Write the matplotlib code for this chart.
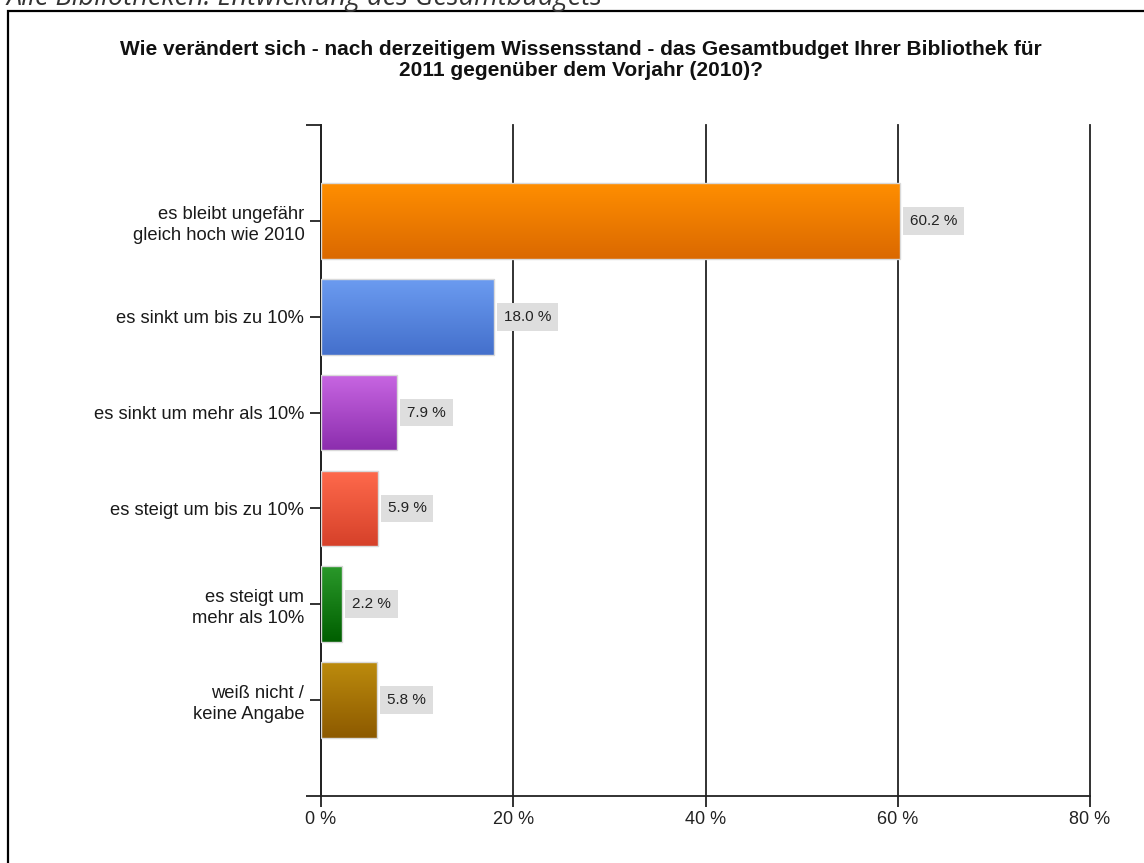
import matplotlib.pyplot as plt
import matplotlib.patches as mpatches
import numpy as np
from matplotlib.colors import LinearSegmentedColormap

plt.rcParams['font.family'] = ['Liberation Sans', 'DejaVu Sans']

# Umfrage: Entwicklung des Gesamtbudgets 2011 vs. 2010
categories = ['es bleibt ungefähr\ngleich hoch wie 2010',
              'es sinkt um bis zu 10%',
              'es sinkt um mehr als 10%',
              'es steigt um bis zu 10%',
              'es steigt um\nmehr als 10%',
              'weiß nicht /\nkeine Angabe']
values = [60.2, 18.0, 7.9, 5.9, 2.2, 5.8]
value_labels = ['60.2 %', '18.0 %', '7.9 %', '5.9 %', '2.2 %', '5.8 %']
x_ticks = [0, 20, 40, 60, 80]
x_ticklabels = ['0 %', '20 %', '40 %', '60 %', '80 %']

# top / bottom colour of each bar gradient
bar_colors = [('#ff8e00', '#db6900'),
              ('#6b9bf0', '#4470cc'),
              ('#c866e2', '#8c2eae'),
              ('#ff6a4c', '#d6412a'),
              ('#2a982a', '#005f00'),
              ('#bc8b0d', '#8d5a00')]

W, H = 1144, 863
fig = plt.figure(figsize=(W / 100, H / 100), dpi=100)
ax = fig.add_axes([321 / W, (H - 796) / H, (1090 - 321) / W, (796 - 125) / H])

ypos = np.arange(1, len(categories) + 1)
bar_h = 0.79

ax.set_xlim(0, 80)
ax.set_ylim(len(categories) + 1, 0)

for y, v, (c_top, c_bot), lab in zip(ypos, values, bar_colors, value_labels):
    cmap = LinearSegmentedColormap.from_list('g', [c_top, c_bot])
    grad = np.linspace(0, 1, 64).reshape(-1, 1)
    im = ax.imshow(grad, cmap=cmap, aspect='auto', zorder=3,
                   extent=(0, v, y + bar_h / 2, y - bar_h / 2), origin='upper')
    rect = mpatches.Rectangle((0, y - bar_h / 2), v, bar_h, facecolor='none',
                              edgecolor='#d9d9d9', linewidth=1.0, zorder=4)
    ax.add_patch(rect)
    im.set_clip_path(rect)
    ax.annotate(lab, xy=(v, y), xytext=(10, 0), textcoords='offset pixels',
                ha='left', va='center', fontsize=11, color='#222222', zorder=6,
                bbox=dict(boxstyle='square,pad=0.45', facecolor='#dedede',
                          edgecolor='none'))

ax.set_xlim(0, 80)
ax.set_ylim(len(categories) + 1, 0)

ax.set_xticks(x_ticks)
ax.set_xticklabels(x_ticklabels, fontsize=13, color='#222222')
ax.set_yticks(ypos)
ax.set_yticklabels(categories, fontsize=13.2, color='#1a1a1a', linespacing=1.3)
ax.set_yticks([0, len(categories) + 1], minor=True)
ax.tick_params(axis='y', which='major', length=8, width=1.3, color='#222222', pad=4)
ax.tick_params(axis='y', which='minor', length=11, width=1.3, color='#222222')
ax.tick_params(axis='x', length=8, width=1.3, color='#222222', pad=3)

ax.grid(axis='x', color='#222222', linewidth=1.3, zorder=1)
ax.set_axisbelow(True)
for gl in ax.get_xgridlines():
    gl.set_clip_on(False)
for side in ['top', 'right']:
    ax.spines[side].set_visible(False)
for side in ['left', 'bottom']:
    ax.spines[side].set_color('#222222')
    ax.spines[side].set_linewidth(1.3)

fig.text(581 / W, 1 - 60 / H,
         'Wie verändert sich - nach derzeitigem Wissensstand - das Gesamtbudget Ihrer Bibliothek für\n'
         '2011 gegenüber dem Vorjahr (2010)?',
         ha='center', va='center', fontsize=15, fontweight='bold', color='#111111',
         linespacing=1.12)

# Überschrift oberhalb des Rahmens, oben abgeschnitten
fig.text(7 / W, 1 - 5 / H, 'Alle Bibliotheken: Entwicklung des Gesamtbudgets',
         ha='left', va='baseline', fontsize=19.5, style='italic', color='#333333',
         family=['Open Sans', 'DejaVu Sans'])

# Rahmen um das Diagramm
fig.add_artist(mpatches.Rectangle((8 / W, -0.1), 2, 1.1 - 11 / H, transform=fig.transFigure,
                                  facecolor='none', edgecolor='black', linewidth=1.6))

fig.savefig('out.png', dpi=100)
